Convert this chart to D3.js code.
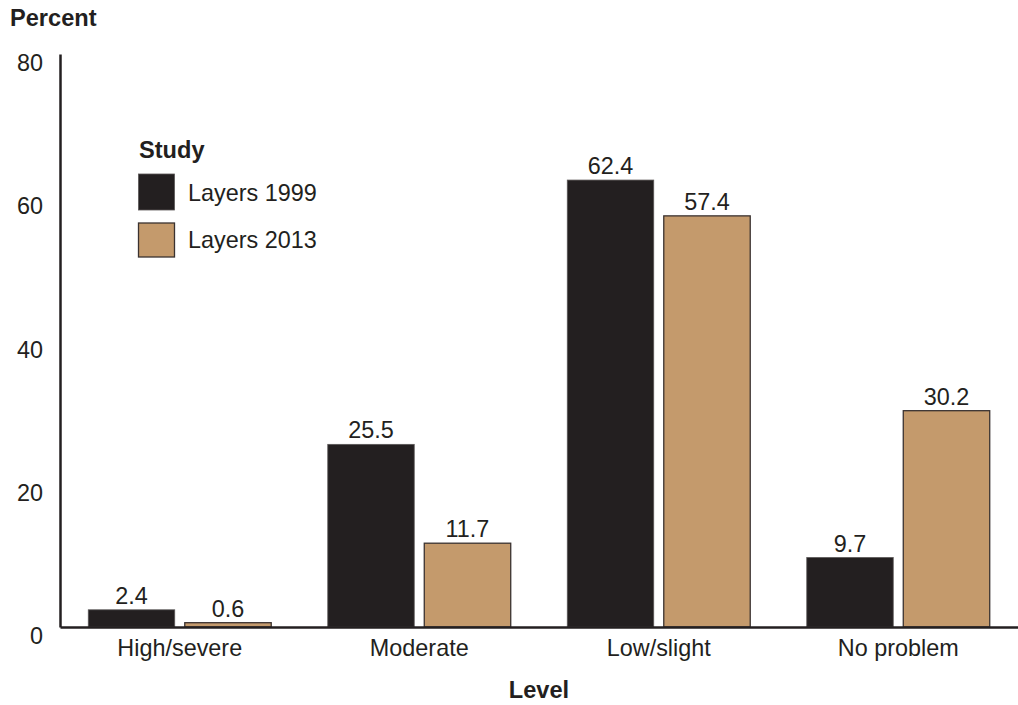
<!DOCTYPE html>
<html><head><meta charset="utf-8">
<script src="https://cdn.jsdelivr.net/npm/d3@7"></script>
<style>
body{margin:0;background:#fff;}
text{font-family:"Liberation Sans",Arial,sans-serif;fill:#231f20;}
</style></head>
<body><svg id="c" width="1018" height="705"></svg>
<script>
const categories = ["High/severe","Moderate","Low/slight","No problem"];
const seriesNames = ["Layers 1999","Layers 2013"];
const layers1999 = [2.4, 25.5, 62.4, 9.7];
const layers2013 = [0.6, 11.7, 57.4, 30.2];
const yTicks = [0,20,40,60,80];
const colors = ["#231f20","#c49a6c"];

const svg = d3.select("#c");
const FS = 23.4;
const FB = 23.6;
const x0 = d3.scaleBand().domain(categories).range([60,1018]).padding(0);
const x1 = d3.scaleBand().domain(seriesNames).range([0,x0.bandwidth()]).paddingInner(0.104).paddingOuter(0.293);
const y = d3.scaleLinear().domain([0,80]).range([627,54]);
const color = d3.scaleOrdinal().domain(seriesNames).range(colors);

const data = categories.map((c,i)=>({cat:c, vals:[
  {s:seriesNames[0], v:layers1999[i]},
  {s:seriesNames[1], v:layers2013[i]}]}));

// bars
const g = svg.append("g");
const groups = g.selectAll("g.grp").data(data).join("g")
  .attr("transform", d=>`translate(${x0(d.cat)},0)`);
groups.selectAll("rect").data(d=>d.vals).join("rect")
  .attr("x", d=>x1(d.s)).attr("width", x1.bandwidth())
  .attr("y", d=>y(d.v)).attr("height", d=>y(0)-y(d.v))
  .attr("fill", d=>color(d.s))
  .attr("stroke", d=> d.s===seriesNames[1] ? "#3a3230" : "#5a5656")
  .attr("stroke-width", d=> d.s===seriesNames[1] ? 1.3 : 0.8);
groups.selectAll("text.val").data(d=>d.vals).join("text").attr("class","val")
  .attr("x", d=>x1(d.s)+x1.bandwidth()/2).attr("y", d=>y(d.v)-6)
  .attr("text-anchor","middle").attr("font-size",FS).text(d=>d.v.toFixed(1));

// axes
const ya = svg.append("g").attr("transform","translate(60,0)")
  .call(d3.axisLeft(y).tickValues(yTicks).tickSize(0).tickSizeOuter(0).tickPadding(17).tickFormat(d3.format("d")));
ya.selectAll("text").attr("dy","0.71em").attr("font-size",FS).attr("font-family",null).attr("fill","#231f20");
ya.select(".domain").attr("stroke","#231f20").attr("stroke-width",2.5);

const xa = svg.append("g").attr("transform","translate(0,627)")
  .call(d3.axisBottom(x0).tickSize(0).tickSizeOuter(0).tickPadding(12));
xa.selectAll("text").attr("font-size",FS).attr("font-family",null).attr("fill","#231f20");
xa.select(".domain").attr("stroke","#231f20").attr("stroke-width",2.5);

// titles
svg.append("text").attr("x",10).attr("y",26).attr("font-size",FB).attr("font-weight","bold").text("Percent");
svg.append("text").attr("x",539).attr("y",698).attr("text-anchor","middle").attr("font-size",FB).attr("font-weight","bold").text("Level");

// legend
const lg = svg.append("g");
lg.append("text").attr("x",139).attr("y",158).attr("font-size",FB).attr("font-weight","bold").text("Study");
const legY = [174, 223];
seriesNames.forEach((s,i)=>{
  lg.append("rect").attr("x",138.5).attr("y",legY[i]).attr("width",36).attr("height",i===0?36:34)
    .attr("fill",color(s)).attr("stroke", i===1 ? "#3a3230" : "#5a5656").attr("stroke-width", i===1?1.3:0.8);
  lg.append("text").attr("x",188).attr("y",[201,248][i]).attr("font-size",FS).text(s);
});
</script></body></html>
